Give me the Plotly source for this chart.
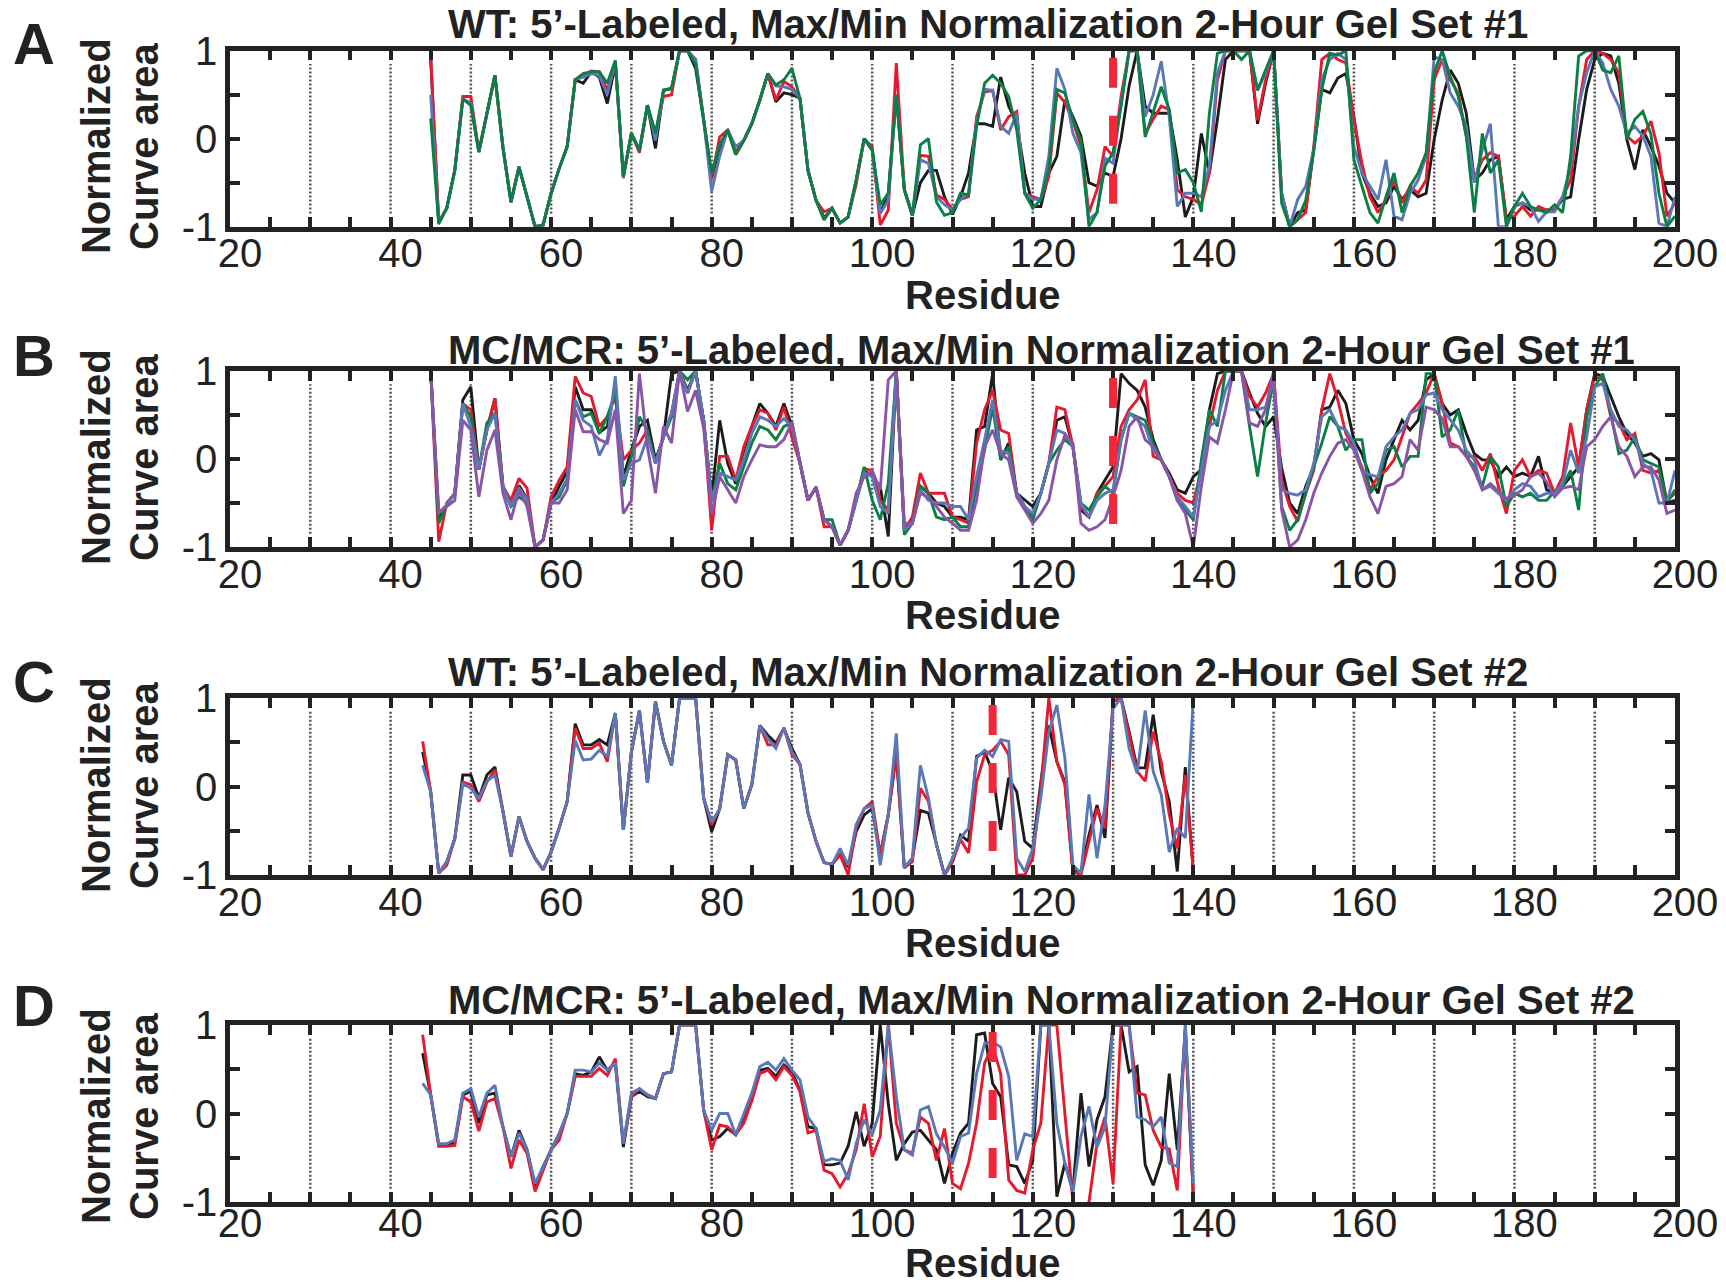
import plotly.graph_objects as go

# ---------------- data ----------------
RES_AB = list(range(45, 201))   # residues, panels A and B
RES_CD = list(range(44, 141))   # residues, panels C and D

A_black = [0.90, -0.95, -0.79, -0.36, 0.45, 0.40, -0.15, 0.29, 0.72, -0.10,
           -0.72, -0.32, -0.66, -1.00, -0.98, -0.62, -0.34, -0.09, 0.67, 0.63,
           0.76, 0.70, 0.40, 0.85, -0.43, 0.06, -0.13, 0.38, -0.11, 0.55,
           0.57, 1.00, 1.00, 0.80, 0.21, -0.45, -0.10, 0.10, -0.18, -0.02,
           0.17, 0.44, 0.74, 0.42, 0.52, 0.50, 0.46, -0.36, -0.70, -0.90,
           -0.79, -0.96, -0.89, -0.47, 0.00, -0.13, -0.85, -0.62, 0.50, -0.58,
           -0.87, -0.50, -0.36, -0.36, -0.66, -0.86, -0.66, -0.39, 0.17, 0.17,
           0.14, 0.70, 0.37, 0.18, -0.39, -0.77, -0.77, -0.39, -0.20, 0.44,
           0.25, 0.03, -0.50, -0.54, -0.39, -0.43, 0.00, 0.60, 1.00, 0.37,
           0.29, 0.29, 0.29, -0.24, -0.89, -0.66, 0.06, -0.39, 0.22, 0.90,
           1.00, 1.00, 1.00, 0.17, 0.63, 1.00, -0.62, -1.00, -0.84, -0.81,
           -0.15, 0.56, 0.52, 0.69, 0.74, 0.25, -0.39, -0.62, -0.77, -0.73,
           -0.54, -0.69, -0.58, -0.66, -0.62, -0.01, 0.44, 0.78, 0.63, 0.29,
           -0.47, -0.39, -0.24, -0.20, -0.92, -0.77, -0.73, -0.81, -0.81, -0.81,
           -0.81, -0.69, -0.66, -0.01, 0.56, 0.90, 0.97, 0.94, 0.63, -0.01,
           -0.35, 0.10, -0.09, -0.31, -0.62, -0.73]
A_red = [0.95, -0.95, -0.79, -0.36, 0.48, 0.48, -0.15, 0.29, 0.72, -0.10,
         -0.72, -0.32, -0.66, -1.00, -0.98, -0.62, -0.34, -0.09, 0.67, 0.72,
         0.77, 0.76, 0.55, 0.88, -0.43, 0.06, -0.16, 0.38, 0.06, 0.48,
         0.50, 1.00, 1.00, 0.90, 0.21, -0.45, 0.02, 0.10, -0.15, -0.02,
         0.17, 0.44, 0.74, 0.44, 0.65, 0.59, 0.46, -0.36, -0.70, -0.83,
         -0.79, -0.96, -0.89, -0.52, 0.00, -0.09, -0.98, -0.81, 0.86, -0.58,
         -0.87, -0.19, -0.20, -0.64, -0.69, -0.80, -0.69, -0.66, 0.25, 0.53,
         0.55, 0.10, 0.25, 0.31, -0.62, -0.66, -0.69, -0.43, 0.52, 0.41,
         0.20, -0.09, -0.84, -0.58, -0.09, -0.20, 0.48, 1.00, 1.00, 0.06,
         0.22, 0.37, 0.33, -0.58, -0.66, -0.69, -0.75, -0.39, 0.67, 1.00,
         1.00, 1.00, 1.00, 0.21, 0.67, 1.00, -0.62, -1.00, -0.92, -0.84,
         -0.09, 0.90, 0.97, 0.90, 0.86, 0.22, -0.28, -0.66, -0.84, -0.69,
         -0.47, -0.73, -0.54, -0.62, -0.47, 0.67, 0.90, 0.67, 0.52, 0.03,
         -0.47, -0.24, -0.16, -0.20, -0.92, -0.88, -0.77, -0.88, -0.77, -0.81,
         -0.81, -0.66, -0.47, 0.37, 0.90, 1.00, 0.97, 0.90, 0.75, 0.03,
         -0.05, 0.03, 0.20, -0.16, -0.88, -0.73]
A_blue = [0.50, -0.95, -0.79, -0.36, 0.45, 0.40, -0.15, 0.29, 0.72, -0.10,
          -0.72, -0.32, -0.66, -1.00, -0.98, -0.62, -0.34, -0.09, 0.67, 0.70,
          0.74, 0.72, 0.50, 0.88, -0.45, 0.06, -0.13, 0.38, -0.02, 0.55,
          0.57, 1.00, 1.00, 0.90, 0.21, -0.60, -0.20, 0.10, -0.09, -0.02,
          0.17, 0.44, 0.74, 0.60, 0.59, 0.56, 0.46, -0.36, -0.70, -0.92,
          -0.79, -0.96, -0.89, -0.47, 0.00, -0.13, -0.85, -0.70, 0.50, -0.58,
          -0.87, -0.24, -0.28, -0.66, -0.75, -0.81, -0.69, -0.62, 0.20, 0.56,
          0.55, 0.14, 0.06, 0.29, -0.62, -0.69, -0.69, -0.20, 0.80, 0.56,
          0.06, -0.16, -0.92, -0.84, -0.22, -0.28, 0.40, 1.00, 1.00, 0.25,
          0.50, 0.88, 0.25, -0.77, -0.62, -0.62, -0.66, -0.31, 0.75, 1.00,
          1.00, 1.00, 1.00, 0.55, 0.75, 1.00, -0.62, -1.00, -0.69, -0.54,
          -0.12, 0.67, 0.90, 0.97, 0.90, -0.09, -0.39, -0.54, -0.69, -0.24,
          -0.88, -0.92, -0.62, -0.47, -0.20, 0.93, 0.90, 0.52, 0.37, 0.14,
          -0.50, -0.13, 0.17, -1.00, -1.00, -0.77, -0.73, -0.77, -0.94, -0.83,
          -0.83, -0.66, -0.31, 0.37, 0.75, 1.00, 0.86, 0.56, 0.37, 0.06,
          0.14, 0.03, -0.20, -0.96, -1.00, -0.66]
A_green = [0.23, -0.97, -0.79, -0.36, 0.45, 0.38, -0.15, 0.29, 0.72, -0.10,
           -0.72, -0.32, -0.66, -1.00, -0.98, -0.62, -0.34, -0.09, 0.67, 0.74,
           0.76, 0.76, 0.63, 0.89, -0.43, 0.06, -0.13, 0.38, 0.06, 0.55,
           0.57, 1.00, 1.00, 0.85, 0.21, -0.39, -0.07, 0.10, -0.18, -0.02,
           0.17, 0.44, 0.74, 0.61, 0.67, 0.80, 0.46, -0.36, -0.70, -0.92,
           -0.79, -0.96, -0.89, -0.47, 0.00, -0.13, -0.75, -0.62, 0.50, -0.58,
           -0.87, -0.07, 0.00, -0.72, -0.87, -0.84, -0.62, -0.64, 0.14, 0.63,
           0.72, 0.63, 0.48, 0.10, -0.62, -0.79, -0.69, -0.35, 0.56, 0.52,
           0.22, -0.02, -1.00, -0.84, -0.31, -0.16, 0.37, 1.00, 1.00, 0.02,
           0.30, 0.59, 0.33, -0.39, -0.35, -0.50, -0.83, 0.29, 0.97, 1.00,
           1.00, 0.90, 1.00, 0.55, 0.78, 1.00, -0.73, -1.00, -0.92, -0.70,
           -0.14, 0.56, 0.97, 0.95, 1.00, -0.24, -0.54, -0.84, -0.96, -0.66,
           -0.39, -0.84, -0.54, -0.39, -0.16, 0.75, 1.00, 0.71, 0.48, 0.03,
           -0.84, 0.06, -0.39, -0.24, -1.00, -0.77, -0.62, -0.77, -0.81, -0.84,
           -0.75, -0.84, -0.20, 0.94, 1.00, 1.00, 0.78, 0.75, 0.94, -0.01,
           0.22, 0.31, 0.05, -0.62, -1.00, -0.88]

B_black = [1.00, -0.66, -0.52, -0.39, 0.67, 0.82, -0.12, 0.33, 0.69, -0.31,
           -0.54, -0.30, -0.45, -1.00, -0.92, -0.50, -0.31, -0.14, 0.82, 0.56,
           0.56, 0.30, 0.37, 0.82, -0.20, 0.10, 0.37, 0.44, -0.01, 0.25,
           0.97, 1.00, 0.78, 1.00, 0.44, -0.45, 0.44, -0.05, -0.28, 0.10,
           0.37, 0.63, 0.52, 0.37, 0.63, 0.37, -0.05, -0.47, -0.32, -0.69,
           -0.77, -0.98, -0.81, -0.47, -0.13, -0.20, -0.31, -0.88, 1.00, -0.81,
           -0.73, -0.31, -0.39, -0.50, -0.54, -0.66, -0.66, -0.69, 0.33, 0.37,
           0.97, -0.01, 0.18, -0.39, -0.47, -0.54, -0.39, -0.05, 0.44, 0.48,
           0.14, -0.58, -0.66, -0.39, -0.24, -0.09, 0.97, 0.86, 0.78, 0.59,
           0.22, -0.01, -0.16, -0.35, -0.39, -0.20, -0.12, 0.56, 0.97, 1.00,
           1.00, 1.00, 0.75, 0.52, 0.37, 0.48, -0.10, -0.50, -0.62, -0.31,
           -0.09, 0.56, 0.59, 0.78, 0.63, 0.22, 0.06, -0.20, -0.39, -0.01,
           0.22, 0.44, 0.33, 0.44, 0.90, 0.97, 0.63, 0.50, 0.56, 0.29,
           0.06, -0.01, -0.01, -0.20, -0.09, -0.20, -0.16, -0.20, 0.03, -0.35,
           -0.39, -0.31, -0.20, -0.09, 0.56, 0.97, 0.94, 0.71, 0.48, 0.29,
           0.18, 0.03, 0.06, -0.01, -0.50, -0.47]
B_red = [1.00, -0.94, -0.50, -0.39, 0.63, 0.56, -0.12, 0.33, 0.69, -0.31,
         -0.47, -0.22, -0.33, -1.00, -0.92, -0.43, -0.24, -0.09, 0.94, 0.75,
         0.71, 0.37, 0.48, 0.71, -0.01, 0.10, 0.18, 0.33, -0.05, 0.25,
         0.52, 1.00, 0.75, 1.00, 0.44, -0.81, 0.03, 0.03, -0.24, 0.14,
         0.37, 0.56, 0.52, 0.33, 0.59, 0.25, -0.05, -0.47, -0.32, -0.77,
         -0.77, -0.98, -0.81, -0.47, -0.11, -0.13, -0.47, -0.58, 1.00, -0.81,
         -0.66, -0.16, -0.39, -0.39, -0.39, -0.66, -0.69, -0.73, 0.18, 0.56,
         0.78, 0.33, 0.29, -0.39, -0.54, -0.66, -0.39, -0.05, 0.59, 0.56,
         0.14, -0.54, -0.66, -0.39, -0.31, -0.20, 0.37, 0.56, 0.67, 0.90,
         0.03, -0.01, -0.20, -0.39, -0.47, -0.50, -0.12, 0.37, 0.78, 1.00,
         1.00, 1.00, 0.71, 0.59, 0.75, 0.97, -0.24, -0.54, -0.71, -0.39,
         -0.13, 0.56, 0.97, 0.67, 0.29, 0.14, -0.09, -0.35, -0.20, -0.13,
         -0.01, 0.25, 0.52, 0.63, 0.75, 0.97, 0.63, 0.18, 0.14, 0.03,
         0.03, -0.13, 0.06, -0.31, -0.62, -0.13, -0.01, -0.20, -0.13, -0.16,
         -0.39, -0.20, 0.41, -0.09, 0.56, 0.94, 0.90, 0.48, 0.41, 0.22,
         0.29, -0.13, -0.16, -0.13, -0.47, -0.39]
B_green = [1.00, -0.73, -0.52, -0.39, 0.63, 0.48, -0.12, 0.41, 0.52, -0.31,
           -0.54, -0.43, -0.50, -1.00, -0.92, -0.50, -0.43, -0.24, 0.67, 0.48,
           0.52, 0.29, 0.48, 0.75, -0.31, 0.03, 0.48, 0.33, -0.05, 0.25,
           0.48, 1.00, 0.90, 1.00, 0.44, -0.47, -0.05, -0.28, -0.35, -0.09,
           0.18, 0.37, 0.33, 0.22, 0.37, 0.41, -0.05, -0.47, -0.32, -0.69,
           -0.69, -0.98, -0.81, -0.47, -0.09, -0.47, -0.69, -0.28, 1.00, -0.86,
           -0.73, -0.31, -0.39, -0.66, -0.69, -0.66, -0.77, -0.77, -0.31, 0.10,
           0.59, -0.01, 0.14, -0.39, -0.54, -0.69, -0.39, -0.05, 0.10, 0.22,
           0.14, -0.50, -0.58, -0.43, -0.31, -0.39, 0.22, 0.52, 0.48, 0.44,
           0.18, -0.01, -0.20, -0.47, -0.58, -0.69, -0.01, 0.56, 0.37, 1.00,
           1.00, 1.00, 0.37, -0.20, 0.41, 0.90, -0.54, -0.81, -0.69, -0.39,
           -0.09, 0.18, 0.48, 0.37, 0.10, 0.22, 0.22, -0.39, -0.28, 0.10,
           0.14, -0.09, 0.03, 0.03, 0.97, 0.97, 0.25, 0.33, 0.56, 0.03,
           -0.09, -0.31, 0.03, -0.09, -0.54, -0.39, -0.43, -0.39, -0.47, -0.47,
           -0.37, -0.31, -0.13, -0.58, 0.48, 0.82, 0.97, 0.52, 0.06, 0.10,
           0.25, -0.01, -0.05, -0.09, -0.50, -0.35]
B_blue = [1.00, -0.62, -0.52, -0.39, 0.63, 0.37, -0.12, 0.33, 0.52, -0.31,
          -0.54, -0.33, -0.45, -1.00, -0.92, -0.50, -0.39, -0.22, 0.67, 0.44,
          0.37, 0.04, 0.22, 0.94, -0.24, -0.05, -0.01, 0.25, -0.05, 0.25,
          0.52, 1.00, 0.75, 1.00, 0.44, -0.47, -0.16, -0.20, -0.24, -0.01,
          0.29, 0.48, 0.44, 0.37, 0.46, 0.37, -0.05, -0.47, -0.32, -0.69,
          -0.77, -0.98, -0.81, -0.47, -0.16, -0.20, -0.54, -0.62, 1.00, -0.81,
          -0.73, -0.35, -0.47, -0.50, -0.50, -0.54, -0.54, -0.69, -0.20, 0.22,
          0.67, 0.10, 0.06, -0.39, -0.54, -0.62, -0.39, -0.05, 0.33, 0.29,
          0.14, -0.50, -0.66, -0.47, -0.39, -0.35, 0.22, 0.52, 0.44, 0.37,
          0.10, -0.01, -0.20, -0.43, -0.54, -0.66, -0.12, 0.37, 0.44, 0.78,
          1.00, 1.00, 0.56, 0.56, 0.59, 0.90, -0.35, -0.39, -0.41, -0.35,
          -0.05, 0.48, 0.56, 0.37, 0.33, 0.18, -0.13, -0.18, -0.20, 0.14,
          0.25, 0.33, 0.52, 0.56, 0.73, 0.75, 0.56, 0.44, 0.33, 0.10,
          -0.01, -0.35, -0.31, -0.39, -0.47, -0.35, -0.28, -0.31, -0.43, -0.39,
          -0.39, -0.28, 0.10, -0.16, 0.25, 0.82, 0.86, 0.56, 0.37, 0.33,
          0.22, -0.05, -0.13, -0.50, -0.50, -0.13]
B_purple = [1.00, -0.60, -0.54, -0.47, 0.44, 0.33, -0.43, 0.10, 0.33, -0.39,
            -0.69, -0.35, -0.54, -1.00, -0.92, -0.50, -0.50, -0.35, 0.56, 0.31,
            0.31, 0.22, 0.18, 0.56, -0.62, -0.47, 0.97, 0.14, -0.39, 0.37,
            0.18, 1.00, 0.54, 0.78, 0.35, -0.62, -0.20, -0.35, -0.50, -0.20,
            -0.01, 0.16, 0.14, 0.14, 0.22, 0.42, -0.05, -0.47, -0.32, -0.69,
            -0.77, -0.98, -0.81, -0.39, -0.20, -0.13, -0.35, 0.90, 1.00, -0.73,
            -0.73, -0.39, -0.43, -0.54, -0.66, -0.73, -0.81, -0.81, -0.47, 0.14,
            0.33, 0.06, -0.01, -0.43, -0.58, -0.73, -0.62, -0.47, -0.01, 0.27,
            0.18, -0.73, -0.81, -0.77, -0.69, -0.43, -0.13, 0.37, 0.48, 0.22,
            0.14, -0.01, -0.20, -0.47, -0.62, -1.00, -0.31, 0.25, 0.18, 0.56,
            1.00, 1.00, 0.41, 0.37, 0.56, 1.00, -0.58, -1.00, -0.92, -0.69,
            -0.39, -0.16, 0.03, 0.18, 0.22, 0.10, -0.13, -0.43, -0.62, -0.31,
            -0.28, -0.20, 0.22, 0.10, 0.59, 0.56, 0.46, 0.14, 0.14, 0.03,
            -0.13, -0.35, -0.28, -0.37, -0.45, -0.41, -0.35, -0.20, -0.16, -0.26,
            -0.43, -0.33, -0.31, -0.35, 0.14, 0.22, 0.37, 0.48, 0.14, 0.03,
            -0.20, -0.09, -0.09, -0.24, -0.62, -0.58]

C_black = [0.39, -0.06, -0.98, -0.85, -0.59, 0.13, 0.13, -0.13, 0.13, 0.22,
           -0.28, -0.79, -0.34, -0.62, -0.81, -0.94, -0.74, -0.47, -0.17, 0.71,
           0.47, 0.47, 0.53, 0.47, 0.83, -0.49, 0.39, 0.86, 0.04, 0.96,
           0.51, 0.24, 1.00, 1.00, 1.00, -0.13, -0.51, -0.25, 0.36, 0.30,
           -0.25, 0.02, 0.69, 0.58, 0.49, 0.66, 0.43, 0.25, -0.30, -0.62,
           -0.86, -0.88, -0.77, -0.91, -0.51, -0.32, -0.25, -0.77, -0.32, 0.36,
           -0.92, -0.81, -0.27, -0.30, -0.66, -1.00, -0.85, -0.55, -0.62, 0.34,
           0.39, 0.17, -0.49, 0.10, -0.06, -0.62, -0.70, 0.05, 0.69, 0.28,
           0.05, -0.96, -0.96, -0.55, -0.21, -0.58, 0.96, 1.00, 0.62, 0.21,
           0.21, 0.81, 0.17, -0.17, -0.96, 0.22, -0.96]
C_red = [0.51, -0.06, -0.98, -0.89, -0.59, 0.05, 0.02, -0.17, 0.05, 0.19,
         -0.28, -0.79, -0.34, -0.62, -0.81, -0.94, -0.74, -0.47, -0.17, 0.66,
         0.43, 0.43, 0.49, 0.28, 0.83, -0.49, 0.39, 0.86, 0.04, 0.96,
         0.51, 0.24, 1.00, 1.00, 1.00, -0.13, -0.43, -0.25, 0.36, 0.30,
         -0.25, 0.02, 0.69, 0.47, 0.47, 0.66, 0.36, 0.25, -0.30, -0.62,
         -0.86, -0.88, -0.77, -1.00, -0.47, -0.25, -0.17, -0.77, -0.32, 0.39,
         -0.92, -0.85, -0.02, -0.17, -0.66, -1.00, -0.85, -0.60, -0.75, 0.05,
         0.36, 0.41, 0.51, 0.36, -1.00, -1.00, -0.81, -0.01, 1.00, 0.28,
         0.02, -0.96, -1.00, -0.62, -0.25, -0.47, 0.96, 1.00, 0.58, 0.17,
         0.06, 0.62, 0.28, -0.32, -0.70, 0.13, -0.96]
C_blue = [0.24, -0.06, -0.98, -0.85, -0.59, 0.03, -0.02, -0.13, 0.06, 0.13,
          -0.28, -0.79, -0.34, -0.62, -0.81, -0.94, -0.74, -0.47, -0.17, 0.52,
          0.30, 0.31, 0.41, 0.34, 0.83, -0.49, 0.39, 0.86, 0.04, 0.96,
          0.51, 0.24, 1.00, 1.00, 1.00, -0.13, -0.40, -0.25, 0.36, 0.30,
          -0.25, 0.02, 0.69, 0.54, 0.43, 0.66, 0.39, 0.25, -0.30, -0.62,
          -0.86, -0.88, -0.70, -0.89, -0.43, -0.25, -0.21, -0.89, -0.32, 0.60,
          -0.92, -0.81, 0.24, -0.13, -0.66, -1.00, -0.81, -0.58, -0.47, 0.32,
          0.41, 0.34, 0.53, 0.51, -0.81, -0.96, -0.70, -0.13, 0.62, 0.92,
          0.32, -0.89, -0.98, -0.09, -0.81, -0.21, 0.88, 1.00, 0.43, 0.15,
          0.86, 0.17, -0.09, -0.74, -0.47, -0.58, 1.00]

D_black = [0.68, 0.21, -0.36, -0.36, -0.33, 0.21, 0.25, -0.11, 0.21, 0.23,
           -0.15, -0.49, -0.19, -0.41, -0.83, -0.60, -0.41, -0.23, 0.00, 0.45,
           0.43, 0.47, 0.64, 0.49, 0.57, -0.38, 0.19, 0.25, 0.19, 0.17,
           0.45, 0.47, 1.00, 1.00, 1.00, 0.04, -0.30, -0.26, -0.17, -0.24,
           -0.04, 0.15, 0.49, 0.51, 0.42, 0.55, 0.47, 0.26, -0.15, -0.17,
           -0.58, -0.58, -0.56, -0.37, 0.02, -0.37, -0.11, 1.00, 0.11, -0.53,
           -0.34, -0.21, -0.19, -0.30, -0.41, -0.79, -0.45, -0.22, -0.11, 0.89,
           0.91, 0.34, 0.19, -0.58, -0.60, -0.79, -0.53, 1.00, 1.00, -0.94,
           -0.56, -0.87, 0.23, -0.60, -0.07, 0.19, 1.00, 1.00, 0.47, 0.53,
           -0.58, -0.81, -0.53, 0.45, -0.41, 0.94, -0.94]
D_red = [0.89, 0.21, -0.37, -0.37, -0.36, 0.19, 0.13, -0.20, 0.13, 0.17,
         -0.15, -0.62, -0.30, -0.45, -0.88, -0.64, -0.41, -0.30, 0.00, 0.42,
         0.42, 0.42, 0.51, 0.43, 0.62, -0.34, 0.19, 0.28, 0.21, 0.17,
         0.45, 0.47, 1.00, 1.00, 1.00, 0.04, -0.41, -0.13, -0.15, -0.24,
         -0.11, 0.15, 0.45, 0.49, 0.38, 0.53, 0.43, 0.25, -0.22, -0.19,
         -0.64, -0.68, -0.83, -0.68, -0.41, 0.11, -0.49, -0.26, 1.00, -0.11,
         -0.41, -0.45, -0.04, -0.11, -0.53, -0.17, -0.79, -0.85, -0.56, -0.11,
         0.57, 0.77, 0.45, -0.75, -0.87, -0.90, -0.41, -0.11, 1.00, 1.00,
         0.04, -1.00, -1.10, -1.00, -0.34, -0.04, -0.79, 1.00, 1.00, 0.23,
         0.21, -0.19, -0.38, -0.40, -0.87, 1.00, -0.94]
D_blue = [0.34, 0.21, -0.34, -0.34, -0.30, 0.23, 0.28, -0.04, 0.23, 0.32,
          -0.15, -0.49, -0.22, -0.41, -0.79, -0.60, -0.41, -0.23, 0.00, 0.49,
          0.49, 0.47, 0.57, 0.49, 0.57, -0.34, 0.23, 0.28, 0.21, 0.17,
          0.45, 0.47, 1.00, 1.00, 1.00, 0.04, -0.19, 0.00, 0.00, -0.24,
          0.00, 0.23, 0.53, 0.58, 0.49, 0.62, 0.49, 0.38, -0.04, -0.17,
          -0.54, -0.51, -0.53, -0.75, -0.34, -0.07, -0.24, 0.04, 1.00, 0.19,
          -0.41, -0.47, 0.04, 0.08, -0.23, -0.38, -0.56, -0.26, -0.22, 0.45,
          0.79, 0.81, 0.75, 0.42, -0.53, -0.23, -0.26, 1.00, 1.00, -0.11,
          -0.56, -0.89, -0.26, 0.08, -0.38, -0.15, 1.00, 1.00, 1.00, -0.04,
          -0.07, -0.15, -0.04, -0.56, -0.60, 1.00, -0.79]

TITLES = ["WT: 5\u2019-Labeled, Max/Min Normalization 2-Hour Gel Set #1",
          "MC/MCR: 5\u2019-Labeled, Max/Min Normalization 2-Hour Gel Set #1",
          "WT: 5\u2019-Labeled, Max/Min Normalization 2-Hour Gel Set #2",
          "MC/MCR: 5\u2019-Labeled, Max/Min Normalization 2-Hour Gel Set #2"]
LETTERS = ["A", "B", "C", "D"]
MARKER_RES = [130, 130, 115, 115]          # red dashed reference residue
GRID_RES = list(range(30, 191, 10))        # dotted reference residues
X_TICKS = list(range(20, 201, 5))
X_LABELS = [str(v) if v % 20 == 0 else "" for v in X_TICKS]
Y_TICKS = [-1, -0.5, 0, 0.5, 1]
Y_LABELS = ["-1", "", "0", "", "1"]

# ---------------- styling / layout ----------------
COL = {"black": "#1c1c1c", "red": "#e41a2f", "blue": "#5a78b8",
       "green": "#0c7f45", "purple": "#8a55a6"}
FONT = "Liberation Sans, Arial, Helvetica, sans-serif"
INK = "#222222"
W, H = 1726, 1285
X_L, X_R = 230, 1675
PANEL_PX = [(50.7, 226.7), (371, 547), (698, 875), (1025, 1202)]
TITLE_Y = [24, 350, 672, 1000]
LETTER_Y = [44, 355, 681, 1005]
YLAB_Y = [146, 457, 785, 1116]
RESIDUE_DY = [68, 68, 68, 61]
TICK_STANDOFF = [-12, -12, -12, -18]


def fx(p):
    return p / W


def fy(p):
    return 1 - p / H


panels = [
    (RES_AB, [("black", A_black), ("red", A_red), ("blue", A_blue), ("green", A_green)]),
    (RES_AB, [("black", B_black), ("red", B_red), ("green", B_green), ("blue", B_blue), ("purple", B_purple)]),
    (RES_CD, [("black", C_black), ("red", C_red), ("blue", C_blue)]),
    (RES_CD, [("black", D_black), ("red", D_red), ("blue", D_blue)]),
]

fig = go.Figure()
layout = dict(template="none", width=W, height=H,
              margin=dict(l=0, r=0, t=0, b=0, pad=0, autoexpand=False),
              paper_bgcolor="white", plot_bgcolor="white", showlegend=False,
              font=dict(family=FONT, color=INK))
shapes = []
annotations = []

for i, (res, series) in enumerate(panels):
    n = "" if i == 0 else str(i + 1)
    xa, ya = "x" + n, "y" + n
    top, bot = PANEL_PX[i]
    for name, vals in series:
        fig.add_trace(go.Scatter(x=res, y=vals, mode="lines",
                                 line=dict(color=COL[name], width=2.9),
                                 xaxis=xa, yaxis=ya, hoverinfo="skip"))
    layout["xaxis" + n] = dict(
        domain=[fx(X_L), fx(X_R)], anchor=ya, range=[20, 200], automargin=False,
        showline=True, linewidth=4.5, linecolor=INK, mirror="ticks",
        ticks="inside", ticklen=10, tickwidth=4, tickcolor=INK,
        tickmode="array", tickvals=X_TICKS, ticktext=X_LABELS,
        tickfont=dict(size=40, family=FONT, color=INK),
        ticklabelshift=10, ticklabelstandoff=TICK_STANDOFF[i],
        showgrid=False, zeroline=False, fixedrange=True)
    layout["yaxis" + n] = dict(
        domain=[fy(bot), fy(top)], anchor=xa, range=[-1, 1], automargin=False,
        showline=True, linewidth=4.5, linecolor=INK, mirror="ticks",
        ticks="inside", ticklen=10, tickwidth=4, tickcolor=INK,
        tickmode="array", tickvals=Y_TICKS, ticktext=Y_LABELS,
        tickfont=dict(size=40, family=FONT, color=INK),
        showgrid=False, zeroline=False, fixedrange=True)
    for g in GRID_RES:
        if g == MARKER_RES[i]:
            continue
        shapes.append(dict(type="line", xref=xa, yref=ya + " domain",
                           x0=g, x1=g, y0=0.075, y1=0.925, layer="below",
                           line=dict(color="#555555", width=2.5, dash="2px,2px")))
    shapes.append(dict(type="line", xref=xa, yref=ya + " domain",
                       x0=MARKER_RES[i], x1=MARKER_RES[i], y0=0.96, y1=0.0,
                       layer="above",
                       line=dict(color="#f0283a", width=8, dash="30px,28px")))
    annotations.append(dict(text="<b>" + TITLES[i] + "</b>", xref="paper", yref="paper",
                            x=fx(446), y=fy(TITLE_Y[i]), xanchor="left", yanchor="middle",
                            showarrow=False, font=dict(size=40, family=FONT, color=INK)))
    annotations.append(dict(text="<b>" + LETTERS[i] + "</b>", xref="paper", yref="paper",
                            x=fx(34), y=fy(LETTER_Y[i]), xanchor="center", yanchor="middle",
                            showarrow=False, font=dict(size=58, family=FONT, color=INK)))
    annotations.append(dict(text="<b>Residue</b>", xref="paper", yref="paper",
                            x=fx(983), y=fy(bot + RESIDUE_DY[i]), xanchor="center",
                            yanchor="middle", showarrow=False,
                            font=dict(size=40, family=FONT, color=INK)))
    annotations.append(dict(text="<b>Normalized</b>", xref="paper", yref="paper",
                            x=fx(96), y=fy(YLAB_Y[i]), xanchor="center", yanchor="middle",
                            textangle=-90, showarrow=False,
                            font=dict(size=40, family=FONT, color=INK)))
    annotations.append(dict(text="<b>Curve area</b>", xref="paper", yref="paper",
                            x=fx(144), y=fy(YLAB_Y[i]), xanchor="center", yanchor="middle",
                            textangle=-90, showarrow=False,
                            font=dict(size=40, family=FONT, color=INK)))

layout["shapes"] = shapes
layout["annotations"] = annotations
fig.update_layout(**layout)
fig.write_html("out.html", config={"displayModeBar": False},
               post_script="document.body.style.margin='0';document.body.style.overflow='hidden';")
